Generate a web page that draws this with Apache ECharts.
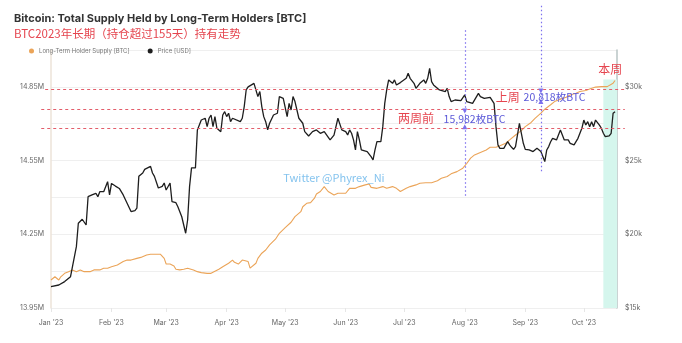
<!DOCTYPE html>
<html><head><meta charset="utf-8">
<script src="https://cdn.jsdelivr.net/npm/echarts@6/dist/echarts.min.js"></script>
<style>html,body{margin:0;padding:0;background:#fff}#c{width:682px;height:343px}</style>
</head><body><div id="c"></div>
<script>
// ---- data (day offsets from 2023-01-01) ----
const priceDays = [0,4,7,10,11,13,14,15,16,18,19,21,23,24,25,27,29,30,31,33,35,37,39,41,43,44,45,47,48,49,51,52,53,55,57,58,59,61,62,64,65,67,69,70,71,72,74,75,76,77,79,80,81,82,83,84,85,86,87,88,89,90,91,92,93,94,97,98,99,100,101,102,104,105,106,107,108,109,110,111,112,113,114,116,117,118,119,121,122,123,124,125,127,129,130,132,134,136,138,140,141,143,144,145,146,147,148,149,151,152,153,154,155,156,157,158,159,160,162,164,165,166,167,168,169,170,171,172,173,175,176,177,179,182,183,184,186,187,188,189,191,192,193,194,195,196,197,199,200,202,203,204,205,207,210,211,212,213,216,217,219,220,221,222,223,225,226,227,228,229,230,231,232,233,234,235,236,237,238,239,240,241,242,243,244,245,246,247,249,250,251,252,253,254,255,256,257,258,259,260,261,262,263,264,265,266,267,268,269,270,271,272,273,274,275,276,277,278,279,280,281,282,283,284,285,286,287,288,289];
const priceValues = [16450,16560,16790,17120,17800,19160,20750,20860,21020,20630,22550,22670,22780,22550,22890,22890,23570,22670,23450,23270,23110,22670,22100,21540,21600,21770,23930,24160,24400,24430,24610,24160,23930,23140,23250,23480,23000,23480,22210,22140,21870,21190,20070,20970,23250,24500,24500,27080,26960,27750,27870,27300,27870,28090,27300,27980,27190,27080,26960,28090,28320,27980,28210,27640,27870,27800,27640,27870,28660,29790,30000,30130,30240,30130,29340,29680,28660,27980,27640,27080,27530,27640,28090,28210,29340,29220,29220,27980,28880,28430,29340,29000,27870,27530,26960,26670,26960,27080,26850,26960,26850,26400,26280,26730,26850,27870,27980,27080,26960,26740,27080,26850,26400,25720,26960,26400,25720,25720,25610,25270,25040,25720,26280,26400,26280,27300,28880,29790,30470,30240,30470,30130,30290,30580,30920,30580,30240,29900,29900,30240,30470,30240,30580,31260,30350,30130,30060,29790,29750,29680,29900,29340,29000,29110,29070,29000,29450,29000,28880,28900,29560,29340,29450,29220,29340,29290,29220,28880,27300,26060,25830,25950,25830,26060,26280,26060,25900,25760,25950,26060,27530,26850,26170,25760,25830,25720,25720,25610,25830,25950,25610,25490,24930,25720,25950,26280,26510,26440,26400,26740,27080,26960,26400,26280,26400,26170,26100,26060,26170,26510,26850,27190,27750,27410,27640,27300,27640,27300,27750,27800,27410,27190,26850,26620,26580,26670,26850,28210,28320];
const lthDays = [0,2,4,5,7,9,11,13,15,17,18,20,22,23,25,27,29,31,34,35,37,39,41,42,44,46,47,49,51,52,54,56,57,58,59,61,63,64,66,68,70,71,73,75,77,80,82,83,86,88,91,93,94,96,98,99,101,102,103,105,106,108,110,112,115,117,120,123,125,128,129,131,133,135,136,138,140,141,142,145,147,148,151,153,156,158,161,163,164,167,170,172,175,177,179,182,184,187,189,192,193,195,198,200,203,205,208,211,213,215,217,220,223,225,228,230,233,235,238,241,243,246,248,251,253,256,258,261,264,266,269,271,274,276,279,282,283,285,288,289];
const lthValues = [14.064,14.077,14.064,14.077,14.091,14.098,14.105,14.098,14.105,14.098,14.091,14.098,14.105,14.108,14.105,14.112,14.112,14.118,14.125,14.132,14.139,14.145,14.145,14.150,14.152,14.156,14.162,14.166,14.169,14.166,14.169,14.169,14.173,14.152,14.129,14.129,14.121,14.108,14.105,14.108,14.112,14.112,14.105,14.098,14.094,14.091,14.091,14.098,14.108,14.118,14.132,14.145,14.136,14.129,14.145,14.152,14.139,14.112,14.116,14.132,14.152,14.173,14.186,14.207,14.230,14.254,14.277,14.299,14.322,14.342,14.362,14.376,14.379,14.397,14.414,14.424,14.444,14.451,14.424,14.410,14.417,14.424,14.417,14.437,14.437,14.444,14.451,14.455,14.441,14.437,14.444,14.437,14.444,14.437,14.424,14.437,14.444,14.451,14.458,14.460,14.464,14.460,14.468,14.478,14.485,14.496,14.505,14.519,14.538,14.560,14.573,14.583,14.593,14.604,14.604,14.610,14.621,14.634,14.654,14.672,14.688,14.705,14.722,14.743,14.759,14.777,14.790,14.800,14.808,14.817,14.824,14.831,14.835,14.841,14.849,14.851,14.845,14.851,14.865,14.876];
const monthLabels = ["Jan '23","Feb '23","Mar '23","Apr '23","May '23","Jun '23","Jul '23","Aug '23","Sep '23","Oct '23","Nov '23","Dec '23"];
const leftTickLabels = [[13.95,'13.95M'],[14.25,'14.25M'],[14.55,'14.55M'],[14.85,'14.85M']];
const rightTickLabels = [[15000,'$15k'],[20000,'$20k'],[25000,'$25k'],[30000,'$30k']];
const refLevels = [14.84, 14.76, 14.68];
const seriesNames = ['Long-Term Holder Supply [BTC]','Price [USD]'];

const day = d => Date.UTC(2023,0,1) + d*86400000;
const toPairs = (ds, vs) => ds.map((d,i)=>[day(d), vs[i]]);

// main plot geometry: x 51..617 for day 0..290, y 308..50 for 13.95..15.00
const PX_PER_DAY = 566/290, VAL_PER_PX = 1.05/258;

const RED = '#e5454f', BLUE = '#5a58d8', PURPLE = '#7d70ee', DASHRED = '#e35d6a';
function textPt(d, v, txt, color, size){
  return {coord:[day(d), v], symbol:'circle', symbolSize:1, itemStyle:{color:'rgba(0,0,0,0)'},
    label:{show:true, position:'inside', formatter:txt, color:color, fontSize:size, fontFamily:'Noto Sans CJK SC'}};
}
function tri(d, v, rot){
  return {coord:[day(d), v], symbol:'triangle', symbolSize:5, symbolRotate:rot, itemStyle:{color:PURPLE}, label:{show:false}};
}

const chart = echarts.init(document.getElementById('c'), null, {renderer:'canvas'});
chart.setOption({
  useUTC: true,
  animation: false,
  backgroundColor: '#ffffff',
  title: [
    {text:'Bitcoin: Total Supply Held by Long-Term Holders [BTC]', left:9, top:8,
     textStyle:{fontSize:11, fontWeight:'bold', color:'#333', fontFamily:'Inter'}},
    {text:'BTC2023年长期（持仓超过155天）持有走势', left:9, top:23,
     textStyle:{fontSize:11.5, fontWeight:'normal', color:RED, fontFamily:'Noto Sans CJK SC'}}
  ],
  legend: {data: seriesNames, left: 24, top: 43, icon:'circle', itemWidth:5, itemHeight:5, itemGap:18,
    textStyle:{fontSize:6, color:'#777', fontFamily:'Inter'}},
  grid: [
    {left:51, right:65, top:50, bottom:35},
    {left:40, right:55, top:0, bottom:35}
  ],
  xAxis: [{
    type:'time', gridIndex:0, min: day(0), max: day(290), splitNumber: 10,
    minInterval: 28*86400000, maxInterval: 32*86400000,
    axisLine:{show:false}, axisTick:{show:true, length:4, lineStyle:{color:'#e6e6e6'}},
    splitLine:{show:false},
    axisLabel:{margin:11, fontSize:7, color:'#666', fontFamily:'Inter',
      formatter: v => monthLabels[new Date(v).getUTCMonth()]}
  }, {
    type:'time', gridIndex:1, show:false,
    min: day(-11/PX_PER_DAY), max: day(290 + 10/PX_PER_DAY)
  }],
  yAxis: [
    {type:'value', gridIndex:0, min:13.95, max:15.0, interval:0.15, position:'left',
     axisLine:{show:true, lineStyle:{color:'#ece3d9', width:1.5}}, axisTick:{show:false},
     splitLine:{show:true, lineStyle:{color:'#efefef'}},
     axisLabel:{margin:7, fontSize:7, color:'#666', fontFamily:'Inter',
       formatter: v => { const m = leftTickLabels.find(t => Math.abs(t[0]-v) < 1e-6); return m ? m[1] : ''; }}},
    {type:'value', gridIndex:0, min:15000, max:32500, interval:2500, position:'right',
     axisLine:{show:true, lineStyle:{color:'#b9c4c4', width:1.5}}, axisTick:{show:false},
     splitLine:{show:false},
     axisLabel:{margin:8, fontSize:7, color:'#666', fontFamily:'Inter',
       formatter: v => { const m = rightTickLabels.find(t => Math.abs(t[0]-v) < 1e-6); return m ? m[1] : ''; }}},
    {type:'value', gridIndex:1, show:false, min:13.95, max: 13.95 + 308*VAL_PER_PX}
  ],
  series: [
    {name:'annotRed', type:'line', xAxisIndex:1, yAxisIndex:2, data:[], silent:true, z:2,
     color: DASHRED, lineStyle:{color:DASHRED},
     markLine:{silent:true, symbol:['none','none'], label:{show:false},
       lineStyle:{color:DASHRED, type:[3,3], width:1},
       data: [
         [{coord:[day(-3), refLevels[0]]},{coord:[day(294), refLevels[0]]}],
         [{coord:[day(-5), refLevels[1]]},{coord:[day(294), refLevels[1]]}],
         [{coord:[day(-5), refLevels[2]]},{coord:[day(294), refLevels[2]]}]
       ]}
    },
    {name:'annotPurple', type:'line', xAxisIndex:1, yAxisIndex:2, data:[], silent:true, z:2,
     color: PURPLE, lineStyle:{color:PURPLE},
     markLine:{silent:true, symbol:['none','none'], label:{show:false},
       lineStyle:{color:PURPLE, type:[1.5,2.5], width:1.2},
       data: [
         [{coord:[day(212), 15.08]},{coord:[day(212), 14.40]}],
         [{coord:[day(251), 15.18]},{coord:[day(251), 14.50]}]
       ]}
    },
    {name: seriesNames[0], type:'line', yAxisIndex:0, data: toPairs(lthDays, lthValues),
     showSymbol:false, lineStyle:{color:'#eba458', width:1.1}, itemStyle:{color:'#eba458'}, z:3,
     markArea:{silent:true, itemStyle:{color:'#d5f6ed'},
       data:[[{coord:[day(283), 14.88]},{coord:[day(290), 13.95]}]]},
     markPoint:{silent:true, data:[
       tri(212, 14.752, 180), tri(212, 14.688, 0),
       tri(251, 14.833, 180), tri(251, 14.790, 0),
       textPt(187, 14.722, '两周前', RED, 12),
       textPt(217, 14.720, '15,982枚BTC', BLUE, 10.5),
       textPt(234, 14.805, '上周', RED, 12),
       textPt(258, 14.807, '20,818枚BTC', BLUE, 10.5),
       textPt(286.5, 14.92, '本周', RED, 12),
       textPt(145, 14.479, 'Twitter @Phyrex_Ni', 'rgba(110,185,235,0.85)', 11)
     ]}
    },
    {name: seriesNames[1], type:'line', yAxisIndex:1, data: toPairs(priceDays, priceValues),
     showSymbol:false, lineStyle:{color:'#1e1e1e', width:1.3}, itemStyle:{color:'#1e1e1e'}, z:4}
  ]
});
</script></body></html>
